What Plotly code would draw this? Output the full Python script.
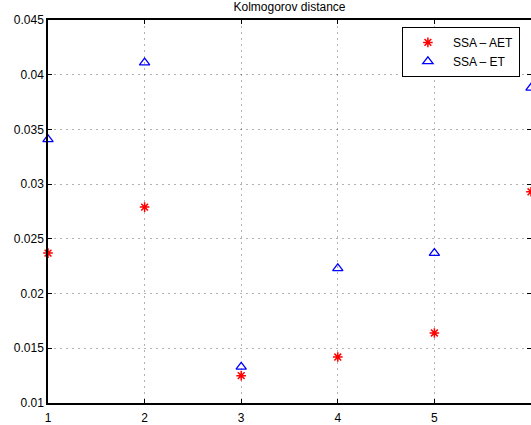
import plotly.graph_objects as go

x_vals = [1, 2, 3, 4, 5, 6]
aet_vals = [0.0237, 0.0279, 0.0125, 0.0142, 0.0164, 0.0293]
et_vals = [0.0341, 0.0411, 0.0133, 0.0223, 0.0237, 0.0388]
y_ticks = [0.01, 0.015, 0.02, 0.025, 0.03, 0.035, 0.04, 0.045]
y_tick_text = ["0.01", "0.015", "0.02", "0.025", "0.03", "0.035", "0.04", "0.045"]
x_ticks = [1, 2, 3, 4, 5, 6]

fig = go.Figure()
fig.add_trace(go.Scatter(
    x=x_vals, y=aet_vals, mode="markers", name="SSA \u2013 AET",
    marker=dict(symbol="asterisk-open", size=8, color="red",
                line=dict(color="red", width=1.5)),
    cliponaxis=False,
))
fig.add_trace(go.Scatter(
    x=x_vals, y=et_vals, mode="markers", name="SSA \u2013 ET",
    marker=dict(symbol="triangle-up-open", size=9, color="blue",
                line=dict(color="blue", width=1.3)),
    cliponaxis=False,
))

font_family = "Liberation Sans, Arial"
axis_common = dict(
    showline=True, linecolor="black", linewidth=1.5, mirror="ticks",
    ticks="inside", ticklen=4, tickcolor="black",
    showgrid=True, gridcolor="rgba(0,0,0,0.3)", griddash="2px,4px", gridwidth=1,
    zeroline=False, tickfont=dict(family=font_family, size=12, color="black"),
)

fig.update_xaxes(range=[1, 6.0001], tickvals=x_ticks, ticklabelstandoff=3, **axis_common)
fig.update_yaxes(range=[0.01, 0.045], tickvals=y_ticks, ticktext=y_tick_text, **axis_common)

fig.update_layout(
    width=533, height=425,
    margin=dict(l=48, r=0, t=20, b=20),
    plot_bgcolor="white", paper_bgcolor="white",
    title=dict(text="Kolmogorov distance", x=0.5, xref="paper", y=0.984, yanchor="middle",
               font=dict(family=font_family, size=12, color="black")),
    legend=dict(x=0.977, y=0.982, xanchor="right", yanchor="top",
                bordercolor="black", borderwidth=1, bgcolor="white",
                font=dict(family=font_family, size=12, color="black"),
                itemwidth=40, tracegroupgap=0),
    showlegend=True,
)

fig.write_html("out.html", post_script="document.body.style.overflow='hidden';document.documentElement.style.overflow='hidden';")
